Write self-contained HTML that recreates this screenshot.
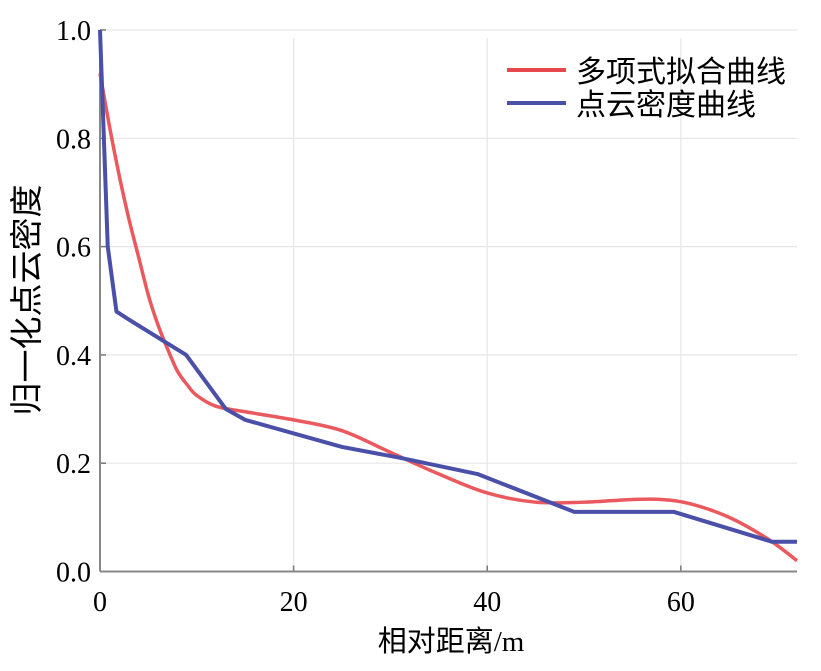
<!DOCTYPE html>
<html><head><meta charset="utf-8"><style>
body{margin:0;background:#fff;}
svg{display:block;font-family:"Liberation Serif","Noto Serif CJK SC",serif;}
</style></head><body>
<svg id="chart" width="821" height="671">
<g id="grid"></g>
<g id="axes"></g>
<g id="series"></g>
<text x="451" y="651" text-anchor="middle" font-size="29" font-family="'Liberation Serif','Noto Sans CJK SC',sans-serif">相对距离/m</text>
<text transform="translate(38,300) rotate(-90)" text-anchor="middle" font-size="33" font-family="'Liberation Sans','Noto Sans CJK SC',sans-serif">归一化点云密度</text>
<g>
<line x1="507" y1="70" x2="566" y2="70" stroke="#e8474c" stroke-width="4"/>
<text x="576" y="82" font-size="30" font-family="'Liberation Sans','Noto Sans CJK SC',sans-serif">多项式拟合曲线</text>
<line x1="507" y1="103" x2="566" y2="103" stroke="#4a4fa8" stroke-width="4"/>
<text x="576" y="115" font-size="30" font-family="'Liberation Sans','Noto Sans CJK SC',sans-serif">点云密度曲线</text>
</g>
</svg>
<script>
const xTicks=[0,20,40,60];
const yTicks=[0.0,0.2,0.4,0.6,0.8,1.0];
const yTickLabels=["0.0","0.2","0.4","0.6","0.8","1.0"];
const densityX=[0,0.8,1.7,3,8.9,13,15,25,31,39,49,59.3,69.4,72];
const densityY=[1.0,0.6,0.48,0.465,0.40,0.30,0.28,0.23,0.21,0.18,0.11,0.11,0.055,0.055];
const polyX=[0,1,2,3,4,5,6,7,8,9,10,12,15,20,25,30,35,40,45,50,55,58,61,65,69,72];
const polyY=[0.92,0.82,0.73,0.65,0.58,0.51,0.455,0.41,0.37,0.345,0.325,0.305,0.295,0.28,0.26,0.22,0.18,0.145,0.128,0.128,0.133,0.133,0.125,0.10,0.06,0.02];
const X0=100,X1=797,Y0=571.5,Y1=30,XMAX=72;
const sx=v=>X0+v/XMAX*(X1-X0);
const sy=v=>Y0-v*(Y0-Y1);
const NS="http://www.w3.org/2000/svg";
function mk(t,a,p){const e=document.createElementNS(NS,t);for(const k in a)e.setAttribute(k,a[k]);p.appendChild(e);return e;}
const grid=document.getElementById('grid'),axes=document.getElementById('axes'),ser=document.getElementById('series');
xTicks.forEach(v=>{
 if(v>0){const g=mk('line',{x1:sx(v),x2:sx(v),y1:Y1+8,y2:Y0,stroke:'#e6e6e6','stroke-width':1.2},grid);
 
 }
 const t=mk('line',{x1:sx(v),x2:sx(v),y1:Y0,y2:Y0-6,stroke:'#777','stroke-width':1.5},axes);
 
 
 const l=mk('text',{x:sx(v),y:611,'text-anchor':'middle','font-size':28},axes);l.textContent=v;
 
 
});
yTicks.forEach((v,i)=>{
 if(v>0){const g=mk('line',{x1:X0,x2:X1,y1:sy(v),y2:sy(v),stroke:'#e6e6e6','stroke-width':1.2},grid);
 
 }
 const t=mk('line',{x1:X0,x2:X0+6,y1:sy(v),y2:sy(v),stroke:'#777','stroke-width':1.5},axes);
 
 
 const l=mk('text',{x:91,y:sy(v)+10,'text-anchor':'end','font-size':28},axes);l.textContent=yTickLabels[i];
 
 
});
const xa=mk('line',{x1:X0,x2:X1,y1:Y0,y2:Y0,stroke:'#888','stroke-width':2},axes);


const ya=mk('line',{x1:X0,x2:X0,y1:Y1,y2:Y0,stroke:'#888','stroke-width':2},axes);


function smooth(xs,ys){const P=xs.map((x,i)=>[sx(x),sy(ys[i])]);let d='M'+P[0][0]+','+P[0][1];
 for(let i=0;i<P.length-1;i++){const p0=P[Math.max(0,i-1)],p1=P[i],p2=P[i+1],p3=P[Math.min(P.length-1,i+2)];
 d+=' C'+(p1[0]+(p2[0]-p0[0])/6)+','+(p1[1]+(p2[1]-p0[1])/6)+' '+(p2[0]-(p3[0]-p1[0])/6)+','+(p2[1]-(p3[1]-p1[1])/6)+' '+p2[0]+','+p2[1];}
 return d;}
const poly=mk('path',{d:smooth(polyX,polyY),fill:'none',stroke:'#e8474c','stroke-width':3.5,opacity:0.9},ser);


const den=mk('polyline',{points:densityX.map((x,i)=>sx(x)+','+sy(densityY[i])).join(' '),fill:'none',stroke:'#4a4fa8','stroke-width':4,'stroke-linejoin':'round'},ser);


</script>
</body></html>
